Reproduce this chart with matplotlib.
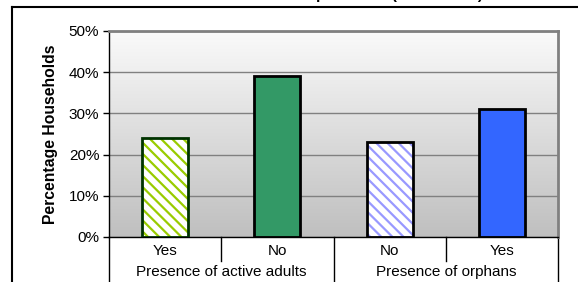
import matplotlib
matplotlib.use("Agg")
import matplotlib.pyplot as plt
import numpy as np
from matplotlib.lines import Line2D

plt.rcParams['font.family'] = ['Liberation Sans', 'DejaVu Sans']

categories = ["Yes", "No", "No", "Yes"]
groups = ["Presence of active adults", "Presence of orphans"]
values = [24, 39, 23, 31]
yticks = [0, 10, 20, 30, 40, 50]

fills = ["white", "#339966", "white", "#3366ff"]
hatch_colors = ["#99cc00", None, "#9999ff", None]
edges = ["#003300", "black", "black", "black"]

W, H = 578, 282
fig = plt.figure(figsize=(W / 100, H / 100), dpi=100)
ax = fig.add_axes([109 / W, 45 / H, 449 / W, 206 / H])

x = np.arange(len(values))
ax.set_xlim(-0.5, len(values) - 0.5)
ax.set_ylim(0, 50)

# gradient background
grad = np.linspace(0, 1, 256).reshape(-1, 1)
top = np.array([0.98, 0.98, 0.98])
bot = np.array([0.75, 0.75, 0.75])
img = top + (bot - top) * grad[:, :, None] * np.ones((1, 1, 3))
ax.imshow(img, extent=[-0.5, len(values) - 0.5, 0, 50], aspect='auto', zorder=0, origin='upper')

ax.set_yticks(yticks)
ax.set_yticklabels([f"{v}%" for v in yticks], fontsize=11)
ax.yaxis.grid(True, color="#808080", lw=1, zorder=1)
ax.set_axisbelow(True)

plt.rcParams['hatch.linewidth'] = 1.6
bw = 0.41
for i, v in enumerate(values):
    ax.bar(x[i], v, width=bw, color=fills[i], edgecolor='none', zorder=2)
    if hatch_colors[i]:
        ax.bar(x[i], v, width=bw, color='none', edgecolor=hatch_colors[i],
               hatch='\\\\\\', lw=0, zorder=3)
    ax.bar(x[i], v, width=bw, color='none', edgecolor=edges[i], lw=2, zorder=4)

ax.set_xticks([])
ax.tick_params(axis='y', length=4, width=1, color='black', pad=3)
for s in ['top', 'right']:
    ax.spines[s].set_color('#808080')
    ax.spines[s].set_linewidth(2)
for s in ['left', 'bottom']:
    ax.spines[s].set_color('black')
    ax.spines[s].set_linewidth(1)

ax.set_ylabel("Percentage Households", fontsize=11.3, fontweight='bold', labelpad=8)

# category labels and separators
trans = ax.get_xaxis_transform()
for i, c in enumerate(categories):
    ax.text(x[i], -0.068, c, transform=trans, ha='center', va='center', fontsize=11)
for gi, g in enumerate(groups):
    ax.text(2 * gi + 0.5, -0.171, g, transform=trans, ha='center', va='center', fontsize=11)
for b in np.arange(-0.5, len(values), 1.0):
    long = (round(b + 0.5) % 2 == 0)
    ax.add_line(Line2D([b, b], [0, -0.235 if long else -0.117], transform=trans,
                       color='black', lw=1, clip_on=False))

# clipped title and outer frame
fig.text(357 / W, 1 + 1 / H, "Food aid dependence (all districts)", ha='center',
         va='baseline', fontsize=11, fontweight='bold')
fig.add_artist(Line2D([12 / W, 1.0], [1 - 7 / H, 1 - 7 / H], transform=fig.transFigure, color='black', lw=1.5))
fig.add_artist(Line2D([12 / W, 12 / W], [0, 1 - 7 / H], transform=fig.transFigure, color='black', lw=1.5))

fig.savefig("out.png", dpi=100)
